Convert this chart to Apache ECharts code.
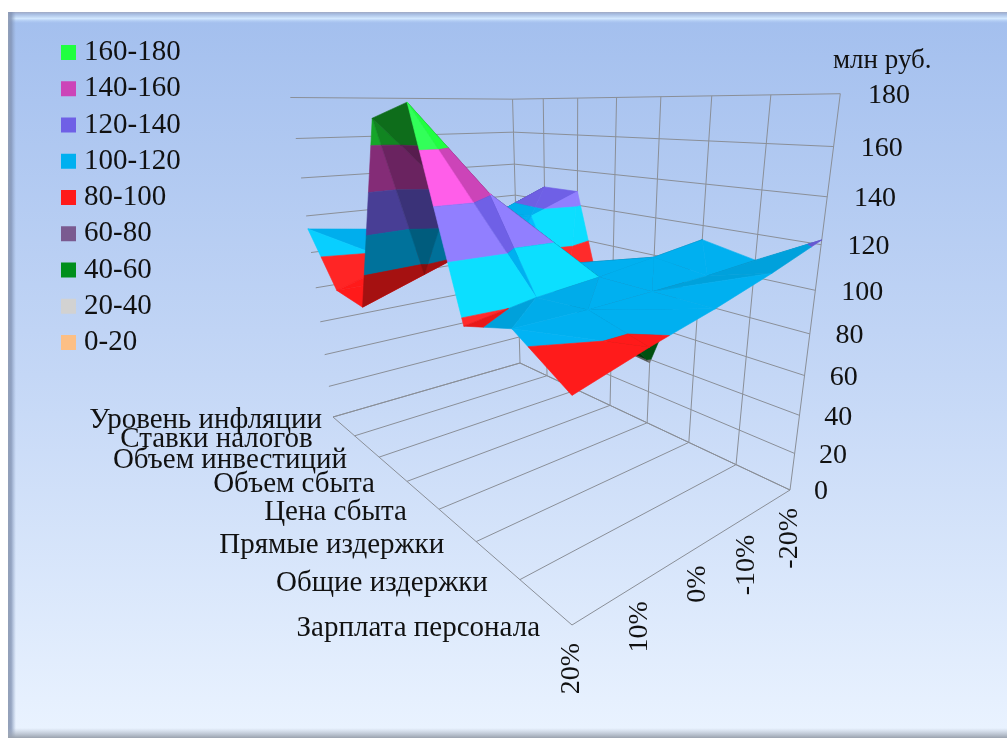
<!DOCTYPE html>
<html>
<head>
<meta charset="utf-8">
<title>Чувствительность</title>
<style>
  html, body { margin: 0; padding: 0; background: #fff; }
  #main { width: 1007px; height: 738px; }
</style>
<script src="https://cdn.jsdelivr.net/npm/echarts@6/dist/echarts.min.js"></script>
</head>
<body>
<div id="main"></div>
<script>
const categories = ['Уровень инфляции', 'Ставки налогов', 'Объем инвестиций', 'Объем сбыта', 'Цена сбыта', 'Прямые издержки', 'Общие издержки', 'Зарплата персонала'];
const shifts = ['20%', '10%', '0%', '-10%', '-20%'];
const zTicks = [0, 20, 40, 60, 80, 100, 120, 140, 160, 180];

// млн руб. по строкам: изменение фактора, порядок как в categories
const plus20 = [113, 85, 83, 171, 177, 97, 104, 90];
const plus10 = [109, 95, 94, 138, 141, 102, 104, 98];
const zero = [105, 105, 105, 105, 105, 105, 105, 105];
const minus10 = [103, 116, 117, 73, 72, 109, 106, 113];
const minus20 = [100, 128, 128, 40, 38, 113, 108, 122];
const rows = [plus20, plus10, zero, minus10, minus20];

const bandNames = ['160-180', '140-160', '120-140', '100-120', '80-100', '60-80', '40-60', '20-40', '0-20'];
const bandLows = [160, 140, 120, 100, 80, 60, 40, 20, 0];
const bandColors = ['#20ff40', '#cc44b8', '#6f60e6', '#00b0f0', '#ff1a1a', '#7a5a90', '#008f1c', '#d2d2d2', '#fcbf85'];

const FONT = '"Liberation Serif", "Times New Roman", serif';
const zMax = 180;

// углы куба на картинке: пол A B D C и верх B' C' D'
const floorA = [572, 625], floorB = [790, 490], floorD = [520, 363], floorC = [333, 417];
const topB = [840, 93], topC = [290, 97], topD = [513, 100];

// перспектива: сначала гомография пола, потом столбец высоты
const dx1 = floorB[0] - floorD[0], dx2 = floorC[0] - floorD[0], sx = floorA[0] - floorB[0] + floorD[0] - floorC[0];
const dy1 = floorB[1] - floorD[1], dy2 = floorC[1] - floorD[1], sy = floorA[1] - floorB[1] + floorD[1] - floorC[1];
const den = dx1 * dy2 - dx2 * dy1;
const g = (sx * dy2 - dx2 * sy) / den;
const h = (dx1 * sy - sx * dy1) / den;
const m = [
  [floorB[0] - floorA[0] + g * floorB[0], floorC[0] - floorA[0] + h * floorC[0], floorA[0]],
  [floorB[1] - floorA[1] + g * floorB[1], floorC[1] - floorA[1] + h * floorC[1], floorA[1]],
  [g, h, 1]
];

// a - X*c = X*w - Nx, b - Y*c = Y*w - Ny для трёх верхних углов
function heightColumn() {
  const pts = [[1, 0, topB], [0, 1, topC], [1, 1, topD]];
  const A = [[0, 0, 0, 0], [0, 0, 0, 0], [0, 0, 0, 0]];
  const add = (row, rhs) => {
    for (let i = 0; i < 3; i++) {
      for (let k = 0; k < 3; k++) A[i][k] += row[i] * row[k];
      A[i][3] += row[i] * rhs;
    }
  };
  pts.forEach(p => {
    const u = p[0], v = p[1], X = p[2][0], Y = p[2][1];
    const w = m[2][0] * u + m[2][1] * v + 1;
    add([1, 0, -X], X * w - (m[0][0] * u + m[0][1] * v + m[0][2]));
    add([0, 1, -Y], Y * w - (m[1][0] * u + m[1][1] * v + m[1][2]));
  });
  for (let i = 0; i < 3; i++) {
    for (let r = 0; r < 3; r++) {
      if (r === i) continue;
      const f = A[r][i] / A[i][i];
      for (let k = i; k < 4; k++) A[r][k] -= f * A[i][k];
    }
  }
  return [A[0][3] / A[0][0], A[1][3] / A[1][1], A[2][3] / A[2][2]];
}
const col = heightColumn();

function project(u, v, z) {
  const t = z / zMax;
  const w = m[2][0] * u + m[2][1] * v + 1 + col[2] * t;
  return [
    (m[0][0] * u + m[0][1] * v + m[0][2] + col[0] * t) / w,
    (m[1][0] * u + m[1][1] * v + m[1][2] + col[1] * t) / w
  ];
}

const uOf = i => i / (shifts.length - 1);
const vOf = c => 1 - c / (categories.length - 1);

// отрезает часть треугольника между двумя уровнями
function clipZ(poly, limit, keepAbove) {
  const out = [];
  for (let i = 0; i < poly.length; i++) {
    const a = poly[i], b = poly[(i + 1) % poly.length];
    const ina = keepAbove ? a[2] >= limit : a[2] <= limit;
    const inb = keepAbove ? b[2] >= limit : b[2] <= limit;
    if (ina) out.push(a);
    if (ina !== inb) {
      const t = (limit - a[2]) / (b[2] - a[2]);
      out.push([a[0] + (b[0] - a[0]) * t, a[1] + (b[1] - a[1]) * t, limit]);
    }
  }
  return out;
}

function signedArea(p) {
  return (p[1][0] - p[0][0]) * (p[2][1] - p[0][1]) - (p[1][1] - p[0][1]) * (p[2][0] - p[0][0]);
}

// освещение грани: крутые склоны к зрителю светлее, изнанка заметно темнее
function faceShade(tri) {
  const ax = tri[1][0] - tri[0][0], ay = (tri[1][1] - tri[0][1]) * 1.4, az = (tri[1][2] - tri[0][2]) / zMax * 0.9;
  const bx = tri[2][0] - tri[0][0], by = (tri[2][1] - tri[0][1]) * 1.4, bz = (tri[2][2] - tri[0][2]) / zMax * 0.9;
  let nx = ay * bz - az * by, ny = az * bx - ax * bz, nz = ax * by - ay * bx;
  if (nz < 0) { nx = -nx; ny = -ny; nz = -nz; }
  const len = Math.hypot(nx, ny, nz);
  nx /= len; ny /= len; nz /= len;
  const seen = signedArea(tri.map(p => project(p[0], p[1], p[2])));
  const flat = signedArea(tri.map(p => project(p[0], p[1], 0)));
  if (seen * flat > 0) {
    const b = 1 + Math.max(0, -ny - 0.3) * 0.5 - 0.35 * Math.max(0, nx) - 0.5 * Math.max(0, ny);
    return Math.min(1.2, b);
  }
  return 0.52 - 0.2 * nx + 0.12 * ny;
}

function shadeColor(hex, b) {
  const n = parseInt(hex.slice(1), 16);
  const extra = Math.max(0, b - 1) * 60;
  const c = [(n >> 16) & 255, (n >> 8) & 255, n & 255].map(x => Math.min(255, Math.round(x * b + extra)));
  return 'rgb(' + c.join(',') + ')';
}

// собираем полигоны по полосам; z2 идёт от дальних клеток к ближним
const bandPolys = bandNames.map(() => []);
let order = 100;
for (let i = rows.length - 2; i >= 0; i--) {
  for (let c = 0; c < categories.length - 1; c++) {
    const p00 = [uOf(i), vOf(c + 1), rows[i][c + 1]];
    const p10 = [uOf(i + 1), vOf(c + 1), rows[i + 1][c + 1]];
    const p01 = [uOf(i), vOf(c), rows[i][c]];
    const p11 = [uOf(i + 1), vOf(c), rows[i + 1][c]];
    // диагональ клетки проходит по гребню, как у Excel
    const tris = p00[2] + p11[2] >= p01[2] + p10[2]
      ? [[p00, p10, p11], [p00, p01, p11]]
      : [[p01, p00, p10], [p01, p11, p10]];
    const depth = t => t.reduce((s, p) => s + m[2][0] * p[0] + m[2][1] * p[1] + col[2] * p[2] / zMax, 0);
    tris.sort((a, b) => depth(b) - depth(a));
    tris.forEach(tri => {
      const shade = faceShade(tri);
      order++;
      bandLows.forEach((lo, b) => {
        let poly = clipZ(tri, lo, true);
        if (poly.length) poly = clipZ(poly, lo + 20, false);
        if (poly.length >= 3) bandPolys[b].push({ poly, shade, order });
      });
    });
  }
}

function bandSeries(name, b) {
  return {
    name,
    type: 'custom',
    coordinateSystem: 'cartesian2d',
    silent: true,
    itemStyle: { color: bandColors[b] },
    data: bandPolys[b].map((p, idx) => [idx]),
    renderItem: (params, api) => {
      const f = bandPolys[b][api.value(0)];
      const fill = shadeColor(bandColors[b], f.shade);
      return {
        type: 'polygon',
        z2: f.order,
        shape: { points: f.poly.map(p => api.coord(project(p[0], p[1], p[2]))) },
        style: { fill, stroke: fill, lineWidth: 0.6 }
      };
    }
  };
}

// сетка: уровни на стенах, линии категорий на полу, вертикали на правой стене
const gridLines = [];
zTicks.forEach(z => {
  gridLines.push([0, 1, z, 1, 1, z]);
  gridLines.push([1, 1, z, 1, 0, z]);
});
categories.forEach((name, c) => {
  gridLines.push([0, vOf(c), 0, 1, vOf(c), 0]);
  gridLines.push([1, vOf(c), 0, 1, vOf(c), zMax]);
});
gridLines.push([0, 0, 0, 0, 1, 0]);
gridLines.push([1, 0, 0, 1, 1, 0]);

const gridSeries = {
  type: 'custom',
  coordinateSystem: 'cartesian2d',
  silent: true,
  data: gridLines,
  renderItem: (params, api) => {
    const a = api.coord(project(api.value(0), api.value(1), api.value(2)));
    const b = api.coord(project(api.value(3), api.value(4), api.value(5)));
    return {
      type: 'line',
      z2: 10,
      shape: { x1: a[0], y1: a[1], x2: b[0], y2: b[1] },
      style: { stroke: '#8a8f98', lineWidth: 1 }
    };
  }
};

// подписи тоже идут через проекцию от своих делений
function textSeries(items, build) {
  return {
    type: 'custom',
    coordinateSystem: 'cartesian2d',
    silent: true,
    data: items.map((t, idx) => [idx]),
    renderItem: (params, api) => build(api, api.value(0))
  };
}
const labelStyle = { fontFamily: FONT, fontSize: 28, fill: '#111' };

const zLabels = textSeries(zTicks, (api, idx) => {
  const p = api.coord(project(1, 0, zTicks[idx]));
  return {
    type: 'text', z2: 9000, x: p[0] + 24 + idx * 0.4, y: p[1] + 2,
    style: { ...labelStyle, text: String(zTicks[idx]), align: 'left', verticalAlign: 'middle' }
  };
});
const shiftLabels = textSeries(shifts, (api, idx) => {
  const p = api.coord(project(uOf(idx), 0, 0));
  return {
    type: 'text', z2: 9000, x: p[0], y: p[1] + 18, rotation: Math.PI / 2,
    style: { ...labelStyle, text: shifts[idx], align: 'right', verticalAlign: 'middle' }
  };
});
const catNudge = [21, -10, 0, 0, 0, 0, 0, 0];
const catLabels = textSeries(categories, (api, idx) => {
  const p = api.coord(project(0, vOf(idx), 0));
  return {
    type: 'text', z2: 9000, x: p[0] - 32 + catNudge[idx], y: p[1] + 3.5,
    style: { ...labelStyle, fontSize: 29, text: categories[idx], align: 'right', verticalAlign: 'middle' }
  };
});

const chart = echarts.init(document.getElementById('main'));
chart.setOption({
  animation: false,
  backgroundColor: '#fff',
  grid: { left: 0, right: 0, top: 0, bottom: 0 },
  xAxis: { type: 'value', min: 0, max: 1007, show: false },
  yAxis: { type: 'value', min: 0, max: 738, inverse: true, show: false },
  legend: {
    data: bandNames,
    orient: 'vertical',
    left: 56,
    top: 33,
    icon: 'rect',
    itemWidth: 15,
    itemHeight: 15,
    itemGap: 7.25,
    selectedMode: false,
    textStyle: { fontFamily: FONT, fontSize: 29, color: '#111', padding: [0, 0, 0, 3], lineHeight: 28 }
  },
  graphic: [
    { type: 'rect', z: -10, shape: { x: 8, y: 12, width: 999, height: 726 },
      style: { fill: new echarts.graphic.LinearGradient(0, 0, 0, 1, [{ offset: 0, color: '#a3bfee' }, { offset: 0.5, color: '#c4d7f6' }, { offset: 1, color: '#eaf3ff' }]) } },
    { type: 'rect', z: -9, shape: { x: 8, y: 12, width: 999, height: 12 },
      style: { fill: new echarts.graphic.LinearGradient(0, 0, 0, 1, [{ offset: 0, color: '#9fa9c4' }, { offset: 0.2, color: '#a9bfe4' }, { offset: 0.55, color: '#d2e8ff' }, { offset: 1, color: 'rgba(163,191,238,0)' }]) } },
    { type: 'rect', z: -9, shape: { x: 8, y: 12, width: 8, height: 726 },
      style: { fill: new echarts.graphic.LinearGradient(1, 0, 0, 0, [{ offset: 0, color: 'rgba(140,160,195,0)' }, { offset: 0.6, color: 'rgba(125,142,175,0.75)' }, { offset: 1, color: '#93a0b8' }]) } },
    { type: 'rect', z: -9, shape: { x: 8, y: 728, width: 999, height: 10 },
      style: { fill: new echarts.graphic.LinearGradient(0, 0, 0, 1, [{ offset: 0, color: 'rgba(170,180,195,0)' }, { offset: 1, color: '#9aa2ae' }]) } },
    { type: 'text', z: 20, x: 833, y: 61,
      style: { text: 'млн руб.', fontFamily: FONT, fontSize: 27, fill: '#111', align: 'left', verticalAlign: 'middle' } }
  ],
  series: [
    ...bandNames.map(bandSeries),
    gridSeries,
    zLabels,
    shiftLabels,
    catLabels
  ]
});
</script>
</body>
</html>
